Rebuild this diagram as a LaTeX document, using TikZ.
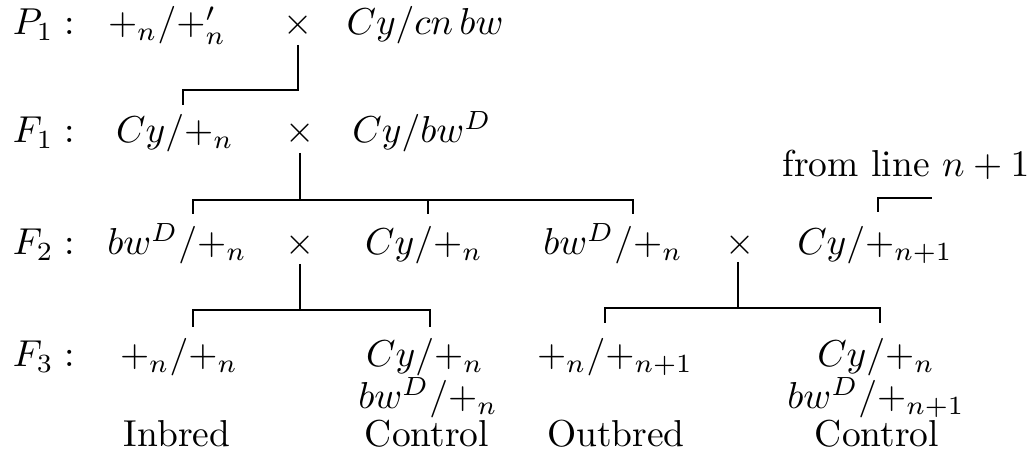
\documentclass[tikz,border=0pt]{standalone}
\begin{document}
\begin{tikzpicture}[x=0.2667pt,y=-0.2667pt,
  txt/.style={anchor=base,inner sep=0pt},
  lbl/.style={anchor=base west,inner sep=0pt},
  link/.style={draw,line width=0.6pt}]
\useasboundingbox (0,0) rectangle (1033,459);
% P1 row
\node[lbl] (lP) at (12,35) {$P_1:$};
\node[txt] (pA) at (167,35) {$+_n/+_n'$};
\node[txt] (xP) at (298,35) {$\times$};
\node[txt] (pB) at (425,35) {$Cy/cn\,bw$};
% F1 row
\node[lbl] (lF1) at (12,143) {$F_1:$};
\node[txt] (f1A) at (175,143) {$Cy/+_n$};
\node[txt] (xF1) at (300,143) {$\times$};
\node[txt] (f1B) at (422,143) {$Cy/bw^D$};
% F2 row
\node[lbl] (lF2) at (12,255) {$F_2:$};
\node[txt] (f2A) at (177,255) {$bw^D/+_n$};
\node[txt] (xF2a) at (300,255) {$\times$};
\node[txt] (f2B) at (424,255) {$Cy/+_n$};
\node[txt] (f2C) at (613,255) {$bw^D/+_n$};
\node[txt] (xF2b) at (740,255) {$\times$};
\node[txt] (f2D) at (875,255) {$Cy/+_{n+1}$};
\node[txt] (from) at (906,177) {from line $n+1$};
% F3 row
\node[lbl] (lF3) at (12,367) {$F_3:$};
\node[txt] (f3A) at (179,367) {$+_n/+_n$};
\node[txt] (f3B) at (425,367) {$Cy/+_n$};
\node[txt] (f3B2) at (428,409) {$bw^D/+_n$};
\node[txt] (f3C) at (615,367) {$+_n/+_{n+1}$};
\node[txt] (f3D) at (876,367) {$Cy/+_n$};
\node[txt] (f3D2) at (876,409) {$bw^D/+_{n+1}$};
% labels
\node[txt] (inb) at (177,447) {Inbred};
\node[txt] (ctl1) at (427,447) {Control};
\node[txt] (outb) at (616,447) {Outbred};
\node[txt] (ctl2) at (877,447) {Control};
% connectors P1 -> F1
\coordinate (aP) at (298,45);
\coordinate (hP) at (183,90);
\coordinate (bP) at (183,105);
\draw[link] (aP) |- (hP) -- (bP);
% F1 -> F2
\coordinate (aF1) at (300,153);
\coordinate (e1a) at (193,200);
\coordinate (e1c) at (633,200);
\coordinate (t1a) at (193,214);
\coordinate (t1b) at (428,214);
\coordinate (t1c) at (633,214);
\draw[link] (aF1) -- (aF1 |- e1a);
\draw[link] (t1a) -- (e1a) -- (e1c) -- (t1c);
\draw[link] (t1b) -- (t1b |- e1a);
% from line n+1 bracket
\coordinate (fr1) at (878,212);
\coordinate (fr2) at (878,198);
\coordinate (fr3) at (932,198);
\draw[link] (fr1) -- (fr2) -- (fr3);
% F2 left -> F3
\coordinate (aF2) at (300,264);
\coordinate (e2a) at (193,310);
\coordinate (e2b) at (430,310);
\coordinate (t2a) at (193,327);
\coordinate (t2b) at (430,327);
\draw[link] (aF2) -- (aF2 |- e2a);
\draw[link] (t2a) -- (e2a) -- (e2b) -- (t2b);
% F2 right -> F3
\coordinate (aF2r) at (738,262);
\coordinate (e2c) at (605,308);
\coordinate (e2d) at (880,308);
\coordinate (t2c) at (605,323);
\coordinate (t2d) at (880,323);
\draw[link] (aF2r) -- (aF2r |- e2c);
\draw[link] (t2c) -- (e2c) -- (e2d) -- (t2d);
\end{tikzpicture}
\end{document}
